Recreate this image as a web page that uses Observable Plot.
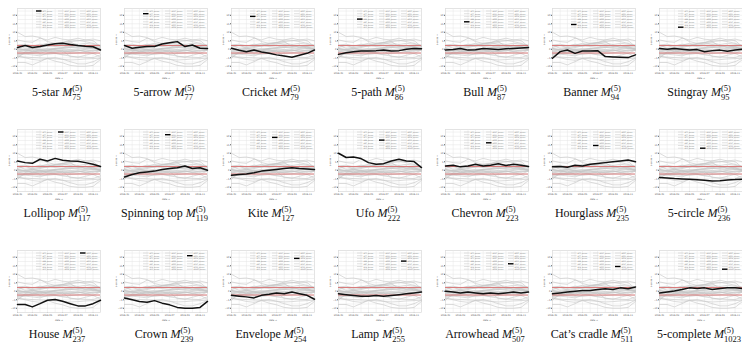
<!DOCTYPE html>
<html><head><meta charset="utf-8">
<script src="https://cdn.jsdelivr.net/npm/d3@7"></script>
<script src="https://cdn.jsdelivr.net/npm/@observablehq/plot@0.6"></script>
<style>
body{margin:0;background:#fff;width:742px;height:343px;overflow:hidden;}
#grid{display:grid;grid-template-columns:repeat(7,107px);grid-auto-rows:121px;width:749px;}
.cell{position:relative;}
.cell svg{display:block;}
.lab{font-family:"Liberation Serif","DejaVu Serif",serif;font-size:12px;line-height:14px;text-align:center;padding-left:14px;padding-right:7px;margin-top:4px;white-space:nowrap;color:#111;}
.m{font-style:italic;}
.st{display:inline-block;vertical-align:-4px;font-size:8.5px;line-height:8.5px;text-align:left;}
.st span{display:block;}
</style></head>
<body><div id="grid"></div>
<script>
// motif names and ids
const motifNames = ["5-star","5-arrow","Cricket","5-path","Bull","Banner","Stingray",
  "Lollipop","Spinning top","Kite","Ufo","Chevron","Hourglass","5-circle",
  "House","Crown","Envelope","Lamp","Arrowhead","Cat\u2019s cradle","5-complete"];
const motifIds = [75,77,79,86,87,94,95,117,119,127,222,223,235,236,237,239,254,255,507,511,1023];
const dates = ["2016-01-01","2016-02-01","2016-03-01","2016-04-01","2016-05-01","2016-06-01",
  "2016-07-01","2016-08-01","2016-09-01","2016-10-01","2016-11-01","2016-12-01"];
const xTicks = ["2016-01-01","2016-03-01","2016-05-01","2016-07-01","2016-09-01","2016-11-01"];
const yTicks = [-10,-5,0,5,10,15,20];
const redLines = [-2.2,2.2];

// z-score series per motif (12 time points each)
const z5star      = [1.0, 2.2, 1.0, 1.6, 2.5, 3.2, 3.5, 2.8, 2.2, 1.8, 1.5, -0.4];
const z5arrow     = [2.2, 0.6, 1.2, 1.6, 1.6, 3.1, 3.9, 4.5, 1.6, 2.5, 0.6, 0.4];
const zCricket    = [0.6, -0.6, -1.4, -0.4, -1.6, -2.4, -3.3, -4.0, -4.7, -3.5, -2.4, -0.4];
const z5path      = [-3.0, -2.0, -1.5, -1.0, -1.0, -0.8, -0.5, -1.0, -0.8, 0.0, 0.5, 0.3];
const zBull       = [-0.5, -0.2, 0.5, -0.5, -0.3, 0.4, 0.2, -0.2, 0.3, 0.5, 0.8, 1.0];
const zBanner     = [-5.3, -1.4, -0.4, -2.4, -1.0, -1.0, -0.8, -4.3, -4.5, -4.7, -4.9, -3.3];
const zStingray   = [0.5, 0.0, 0.5, 0.0, -0.5, -0.2, -1.5, -0.8, -0.5, -1.2, -0.5, 0.0];
const zLollipop   = [5.5, 4.5, 4.1, 6.5, 5.5, 7.0, 5.9, 5.5, 5.3, 4.5, 3.5, 2.2];
const zSpinning   = [-4.0, -2.5, -1.5, -1.0, -0.5, 0.5, 1.0, 1.5, 2.5, 1.0, 1.5, 0.0];
const zKite       = [-3.0, -2.5, -2.2, -1.5, -0.5, 0.0, 0.5, 1.0, 1.5, 1.0, 0.8, 0.5];
const zUfo        = [10.0, 7.5, 7.8, 6.9, 4.5, 3.5, 3.9, 5.5, 6.5, 5.5, 5.1, 1.6];
const zChevron    = [2.5, 3.0, 2.0, 2.5, 3.5, 2.5, 3.0, 3.8, 2.8, 3.5, 3.0, 2.2];
const zHourglass  = [2.0, 2.2, 1.8, 3.0, 2.5, 3.5, 4.0, 4.5, 5.0, 5.5, 6.0, 5.0];
const z5circle    = [-4.3, -4.6, -4.9, -5.1, -5.3, -5.6, -5.9, -6.3, -6.1, -5.7, -5.5, -5.2];
const zHouse      = [-7.8, -7.8, -9.2, -7.3, -5.3, -4.9, -5.9, -7.3, -8.6, -8.6, -7.3, -5.3];
const zCrown      = [-4.0, -5.0, -6.0, -6.5, -5.5, -7.0, -8.0, -9.5, -10.0, -10.0, -9.5, -6.0];
const zEnvelope   = [-2.4, -2.9, -3.3, -3.9, -2.4, -1.8, -1.0, -1.4, -0.4, -1.4, -2.4, -4.7];
const zLamp       = [-1.5, -2.0, -2.5, -3.0, -3.0, -2.5, -3.0, -2.5, -2.0, -1.5, -1.0, -0.5];
const zArrowhead  = [0.0, -0.5, -1.0, -0.5, -1.0, -1.5, -1.0, -1.5, -1.0, -0.5, -1.0, -0.5];
const zCatsCradle = [-1.5, -1.0, -0.5, 0.0, 0.5, 0.5, 1.0, 1.5, 1.0, 2.0, 1.5, 2.5];
const z5complete  = [-1.0, -0.4, 0.2, 1.0, 2.0, 1.6, 2.0, 1.0, 1.6, 2.0, 2.0, 1.6];

const allSeries = [z5star,z5arrow,zCricket,z5path,zBull,zBanner,zStingray,
  zLollipop,zSpinning,zKite,zUfo,zChevron,zHourglass,z5circle,
  zHouse,zCrown,zEnvelope,zLamp,zArrowhead,zCatsCradle,z5complete];

const xDates = dates.map(d => new Date(d));
const xTickDates = xTicks.map(d => new Date(d));
const rows = [];
allSeries.forEach((s, i) => s.forEach((v, j) => rows.push({s: i, x: xDates[j], y: v})));
const legendLabels = motifIds.map(id => `M${id}_zscore`);

const ML = 17, MT = 8;
const grid = document.getElementById("grid");
motifNames.forEach((name, k) => {
  const legendMarks = [];
  legendLabels.forEach((lab, i) => {
    const col = Math.floor(i / 7), row = i % 7;
    legendMarks.push(Plot.text([lab], {text: d => d, frameAnchor: "top-left",
      dx: 25 + col * 22, dy: 3 + row * 2.7, fontSize: 1.7, textAnchor: "start", lineAnchor: "middle",
      fill: "#777"}));
  });
  const chart = Plot.plot({
    width: 107, height: 80, marginLeft: ML, marginRight: 7, marginTop: MT, marginBottom: 10,
    style: {fontSize: "2.3px", fontFamily: "DejaVu Sans", background: "#fff", color: "#555"},
    x: {type: "utc", domain: [xDates[0], xDates[xDates.length - 1]], ticks: xTickDates, tickSize: 1, tickPadding: 1,
        tickFormat: d3.utcFormat("%Y-%m"), label: "date", labelAnchor: "center", labelOffset: 8},
    y: {domain: [-12.5, 24], ticks: yTicks, tickSize: 1, tickPadding: 1, label: "z-score",
        labelAnchor: "center", labelOffset: 9},
    marks: [
      Plot.frame({fill: "#fff", stroke: "#d0d0d0", strokeWidth: 0.6}),
      Plot.gridX(xDates, {stroke: "#e4e4e4", strokeOpacity: 1, strokeWidth: 0.5}),
      Plot.gridY(d3.range(-12.5, 24.1, 2.5), {stroke: "#e4e4e4", strokeOpacity: 1, strokeWidth: 0.5}),
      Plot.line(rows.filter(r => r.s !== k), {x: "x", y: "y", z: "s", stroke: "#c4c4c4", strokeWidth: 0.6}),
      Plot.ruleY(redLines, {stroke: "#d97a7a", strokeWidth: 1}),
      Plot.line(rows.filter(r => r.s === k), {x: "x", y: "y", stroke: "#111", strokeWidth: 1.5}),
      ...legendMarks
    ]
  });
  // legend key samples
  const svg = d3.select(chart.tagName.toLowerCase() === "svg" ? chart : chart.querySelector("svg"));
  const g = svg.append("g");
  legendLabels.forEach((lab, i) => {
    const col = Math.floor(i / 7), row = i % 7;
    const hi = i === k;
    const x0 = ML + 19 + col * 22, y0 = MT + 3 + row * 2.7;
    g.append("line").attr("x1", x0).attr("x2", x0 + 5.5).attr("y1", y0).attr("y2", y0)
      .attr("stroke", hi ? "#000" : "#c4c4c4").attr("stroke-width", hi ? 1.4 : 0.5);
  });
  const cell = document.createElement("div");
  cell.className = "cell";
  cell.appendChild(chart);
  const lab = document.createElement("div");
  lab.className = "lab";
  lab.innerHTML = `${name} <span class="m">M</span><span class="st"><span>(5)</span><span>${motifIds[k]}</span></span>`;
  cell.appendChild(lab);
  grid.appendChild(cell);
});
</script></body></html>
